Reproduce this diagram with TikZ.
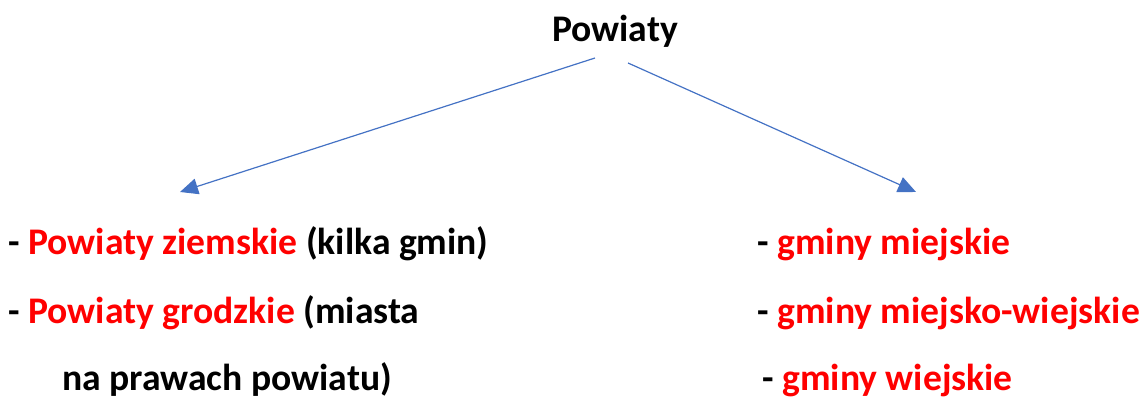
\documentclass[tikz,border=0pt]{standalone}
\usepackage{fontspec}
\setmainfont{Carlito}
\usetikzlibrary{arrows.meta,positioning}
\definecolor{arrowblue}{HTML}{4472C4}
\definecolor{hotred}{HTML}{FF0000}
\newcommand{\rd}[1]{\textcolor{hotred}{#1}}

\begin{document}
\begin{tikzpicture}[x=0.5pt,y=0.5pt,
    txt/.style={inner sep=0pt,anchor=base west,font=\fontsize{18.8}{22}\selectfont\bfseries},
    link/.style={arrowblue,line width=0.6pt,-{Triangle[length=9pt,width=8pt]}}]
   \useasboundingbox (0,0) rectangle (1144,-399);

   \node[txt,anchor=base] (powiaty) at (615,-42) {Powiaty};

   % lewa strona
   \node[txt] (ziemskie)   at (8,-255)  {- \rd{Powiaty ziemskie} (kilka gmin)};
   \node[txt] (grodzkie)   at (8,-324)  {- \rd{Powiaty grodzkie} (miasta};
   \node[txt] (grodzkie_2) at (62,-391) {na prawach powiatu)};

   % prawa strona
   \node[txt] (miejskie)  at (757,-255) {- \rd{gminy miejskie}};
   \node[txt] (mieszane)  at (757,-324) {- \rd{gminy miejsko-wiejskie}};
   \node[txt] (wiejskie)  at (762,-391) {- \rd{gminy wiejskie}};

   \coordinate (l_start) at (595,-58);
   \coordinate (r_start) at (628,-63);
   \coordinate (l_end)   at (180,-192);
   \coordinate (r_end)   at (916,-192);

    \path[link]
    (l_start) edge (l_end)
    (r_start) edge (r_end)
    ;
\end{tikzpicture}
\end{document}
